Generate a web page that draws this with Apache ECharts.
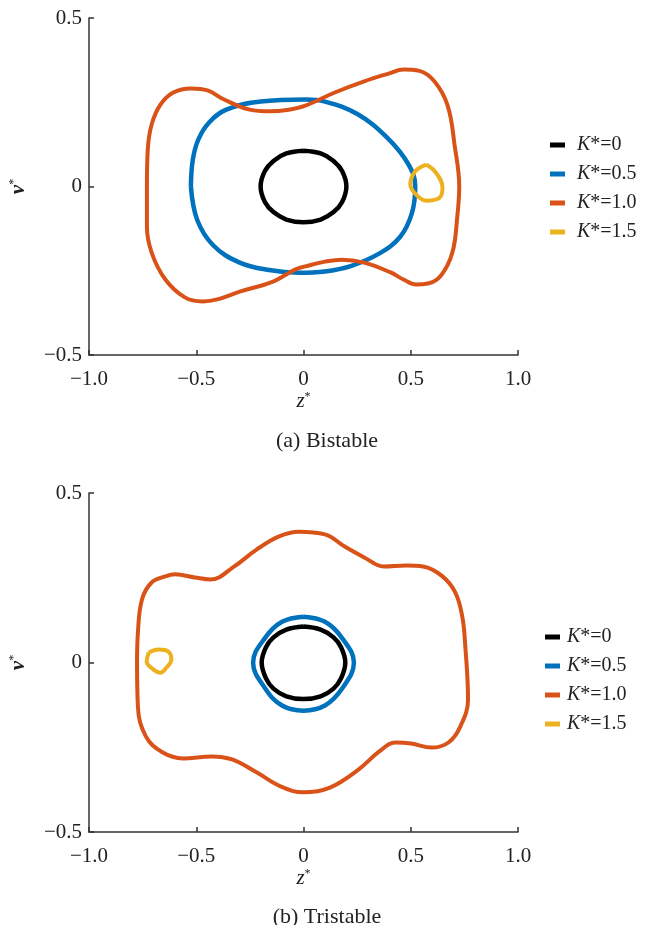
<!DOCTYPE html>
<html>
<head>
<meta charset="utf-8">
<script src="https://cdn.jsdelivr.net/npm/echarts@6/dist/echarts.min.js"></script>
<style>
  html, body { margin: 0; padding: 0; background: #fff; }
  #chartWrap { width: 646px; height: 925px; }
</style>
</head>
<body>
<div id="chartWrap"></div>
<script>
// tick labels
var xTicks = ['\u22121.0', '\u22120.5', '0', '0.5', '1.0'];
var yTicks = ['\u22120.5', '0', '0.5'];
var seriesNames = ['K*=0', 'K*=0.5', 'K*=1.0', 'K*=1.5'];
var colors = ['#000000', '#0072BD', '#D95319', '#EDB120'];

// (a) Bistable, points [z*, v*]
var bistableK0 = [[0, 0.106], [0.08, 0.098], [0.14, 0.076], [0.18, 0.046], [0.2, 0], [0.18, -0.046], [0.14, -0.076], [0.08, -0.098],
  [0, -0.106], [-0.08, -0.098], [-0.14, -0.076], [-0.18, -0.046], [-0.2, 0], [-0.18, 0.046], [-0.14, 0.076], [-0.08, 0.098], [0, 0.106]];
var bistableK05 = [[-0.525, 0], [-0.516, 0.08], [-0.49, 0.14], [-0.44, 0.19], [-0.36, 0.228], [-0.2, 0.252], [0.009, 0.258],
  [0.1, 0.252], [0.251, 0.215], [0.39, 0.145], [0.49, 0.065], [0.521, 0], [0.505, -0.08], [0.45, -0.15], [0.35, -0.2],
  [0.22, -0.236], [0.1, -0.252], [-0.023, -0.256], [-0.16, -0.248], [-0.3, -0.225], [-0.42, -0.175], [-0.495, -0.1], [-0.525, 0]];
var bistableK10 = [[-0.73, 0], [-0.726, 0.11], [-0.708, 0.184], [-0.667, 0.243], [-0.607, 0.279], [-0.525, 0.291], [-0.447, 0.285],
  [-0.37, 0.258], [-0.251, 0.228], [-0.16, 0.223], [-0.068, 0.228], [0.009, 0.24], [0.146, 0.279], [0.283, 0.312], [0.397, 0.335],
  [0.466, 0.347], [0.54, 0.343], [0.61, 0.312], [0.672, 0.24], [0.705, 0.12], [0.726, 0], [0.717, -0.089], [0.694, -0.196],
  [0.64, -0.265], [0.58, -0.288], [0.525, -0.291], [0.466, -0.276], [0.406, -0.255], [0.283, -0.226], [0.178, -0.217],
  [0.1, -0.223], [0.009, -0.237], [-0.037, -0.246], [-0.142, -0.282], [-0.297, -0.312], [-0.402, -0.335], [-0.47, -0.341],
  [-0.553, -0.329], [-0.644, -0.276], [-0.708, -0.196], [-0.73, -0.119], [-0.73, 0]];
var bistableK15 = [[0.571, 0.065], [0.616, 0.042], [0.648, -0.003], [0.635, -0.033], [0.571, -0.042], [0.525, -0.024],
  [0.498, 0.006], [0.521, 0.045], [0.571, 0.065]];

// (b) Tristable
var tristableK0 = [[0, 0.106], [0.08, 0.097], [0.14, 0.074], [0.175, 0.045], [0.195, 0], [0.175, -0.047], [0.14, -0.077], [0.08, -0.1],
  [0, -0.108], [-0.08, -0.1], [-0.14, -0.077], [-0.175, -0.047], [-0.195, 0], [-0.175, 0.045], [-0.14, 0.074], [-0.08, 0.097], [0, 0.106]];
var tristableK05 = [[0, 0.135], [0.1, 0.12], [0.18, 0.072], [0.235, 0], [0.18, -0.077], [0.1, -0.127], [0, -0.142],
  [-0.1, -0.127], [-0.18, -0.075], [-0.235, 0], [-0.18, 0.072], [-0.1, 0.12], [0, 0.135]];
var tristableK10 = [[-0.776, 0], [-0.772, 0.088], [-0.753, 0.186], [-0.708, 0.236], [-0.644, 0.254], [-0.598, 0.26], [-0.507, 0.251],
  [-0.434, 0.245], [-0.324, 0.283], [-0.219, 0.333], [-0.114, 0.372], [-0.023, 0.386], [0.1, 0.378], [0.192, 0.342], [0.283, 0.31],
  [0.374, 0.283], [0.479, 0.286], [0.557, 0.283], [0.648, 0.254], [0.708, 0.206], [0.74, 0.136], [0.753, 0.059], [0.767, -0.109],
  [0.731, -0.189], [0.676, -0.236], [0.598, -0.251], [0.502, -0.239], [0.429, -0.236], [0.352, -0.263], [0.256, -0.316],
  [0.123, -0.369], [0, -0.383], [-0.105, -0.366], [-0.219, -0.324], [-0.333, -0.286], [-0.429, -0.277], [-0.562, -0.283],
  [-0.658, -0.265], [-0.735, -0.218], [-0.772, -0.13], [-0.776, 0]];
var tristableK15 = [[-0.721, 0.03], [-0.676, 0.038], [-0.63, 0.032], [-0.616, 0.009], [-0.639, -0.015], [-0.667, -0.03],
  [-0.699, -0.021], [-0.731, 0.003], [-0.721, 0.03]];

var panelData = [
  [bistableK0, bistableK05, bistableK10, bistableK15],
  [tristableK0, tristableK05, tristableK10, tristableK15]
];
var lineWidths = [4.5, 4.5, 4, 4];

var FONT = '"Liberation Serif", "DejaVu Serif", serif';
var AXIS_COLOR = '#333';

function tickText(list, min) {
  return function (val) {
    var idx = Math.round((val - min) / 0.5);
    return list[idx] !== undefined ? list[idx] : '';
  };
}

function makeXAxis(gridIndex) {
  return {
    type: 'value', gridIndex: gridIndex, min: -1, max: 1, interval: 0.5,
    name: '{i|z}{s|*}', nameLocation: 'middle', nameGap: 34,
    nameTextStyle: {
      rich: {
        i: { fontFamily: FONT, fontStyle: 'italic', fontSize: 21, color: '#222' },
        s: { fontFamily: FONT, fontSize: 12, color: '#222', verticalAlign: 'top', padding: [0, 0, 8, 0] }
      }
    },
    axisLine: { onZero: false, lineStyle: { color: AXIS_COLOR, width: 1.5 } },
    axisTick: { inside: true, length: 5, lineStyle: { color: AXIS_COLOR, width: 1.5 } },
    axisLabel: { formatter: tickText(xTicks, -1), fontFamily: FONT, fontSize: 21, color: '#222', margin: 14 },
    splitLine: { show: false }
  };
}

function makeYAxis(gridIndex) {
  return {
    type: 'value', gridIndex: gridIndex, min: -0.5, max: 0.5, interval: 0.5,
    name: '{i|v}{s|*}', nameLocation: 'middle', nameGap: 60, nameRotate: 90,
    nameTextStyle: {
      rich: {
        i: { fontFamily: FONT, fontStyle: 'italic', fontWeight: 'bold', fontSize: 21, color: '#222' },
        s: { fontFamily: FONT, fontSize: 12, color: '#222', verticalAlign: 'top', padding: [0, 0, 8, 0] }
      }
    },
    axisLine: { onZero: false, lineStyle: { color: AXIS_COLOR, width: 1.5 } },
    axisTick: { inside: true, length: 5, lineStyle: { color: AXIS_COLOR, width: 1.5 } },
    axisLabel: { formatter: tickText(yTicks, -0.5), fontFamily: FONT, fontSize: 21, color: '#222', margin: 7 },
    splitLine: { show: false }
  };
}

function makeLegend(left, top, textPad) {
  return {
    orient: 'vertical', left: left, top: top,
    icon: 'rect', itemWidth: 15, itemHeight: 5, itemGap: 9,
    data: seriesNames,
    formatter: function (name) {
      return '{i|K}{n|' + name.slice(1) + '}';
    },
    textStyle: {
      padding: [0, 0, 0, textPad],
      rich: {
        i: { fontFamily: FONT, fontStyle: 'italic', fontSize: 20, color: '#222', lineHeight: 20 },
        n: { fontFamily: FONT, fontSize: 20, color: '#222', lineHeight: 20 }
      }
    }
  };
}

var series = [];
for (var p = 0; p < panelData.length; p++) {
  for (var k = 0; k < panelData[p].length; k++) {
    series.push({
      name: seriesNames[k],
      type: 'line',
      xAxisIndex: p, yAxisIndex: p,
      data: panelData[p][k],
      smooth: 0.4,
      showSymbol: false,
      symbol: 'none',
      animation: false,
      lineStyle: { color: colors[k], width: lineWidths[k] },
      itemStyle: { color: colors[k] }
    });
  }
}

var myChart = echarts.init(document.getElementById('chartWrap'), null, { renderer: 'canvas' });
myChart.setOption({
  backgroundColor: '#fff',
  animation: false,
  color: colors,
  grid: [
    { left: 80, width: 438, top: 18, height: 337 },
    { left: 80, width: 438, top: 493, height: 339 }
  ],
  xAxis: [makeXAxis(0), makeXAxis(1)],
  yAxis: [makeYAxis(0), makeYAxis(1)],
  legend: [makeLegend(545, 130, 7), makeLegend(540, 622, 2)],
  title: [
    { text: '(a) Bistable', left: 322, top: 425, textAlign: 'center',
      textStyle: { fontFamily: FONT, fontSize: 22, fontWeight: 'normal', color: '#222' } },
    { text: '(b) Tristable', left: 322, top: 901, textAlign: 'center',
      textStyle: { fontFamily: FONT, fontSize: 22, fontWeight: 'normal', color: '#222' } }
  ],
  series: series
});
</script>
</body>
</html>
